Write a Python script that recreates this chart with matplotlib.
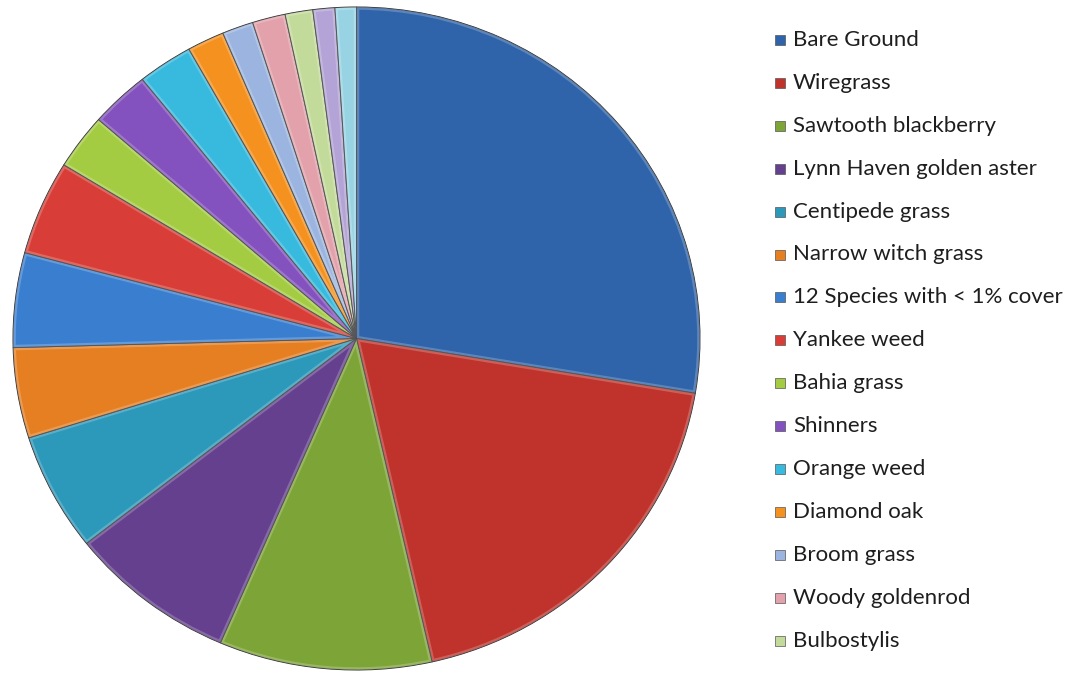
import matplotlib.pyplot as plt
from matplotlib.patches import Rectangle, PathPatch

# percent cover by species (last two slices have no legend entry)
species = ["Bare Ground", "Wiregrass", "Sawtooth blackberry", "Lynn Haven golden aster",
           "Centipede grass", "Narrow witch grass", "12 Species with < 1% cover",
           "Yankee weed", "Bahia grass", "Shinners", "Orange weed", "Diamond oak",
           "Broom grass", "Woody goldenrod", "Bulbostylis"]
cover = [27.6, 18.8, 10.0, 7.9, 5.75, 4.4, 4.6, 4.6, 2.7, 2.8, 2.6, 1.75,
         1.47, 1.55, 1.3, 1.03, 1.0]
colors = ["#2F63AA", "#BF332C", "#7DA436", "#65408F", "#2C98BA", "#E67E22",
          "#3A7ED0", "#D83E37", "#A4CC43", "#8452BE", "#38B9DE", "#F5921F",
          "#9CB5E0", "#E2A1AB", "#C3DB9A", "#B3A3D6", "#98D3E4"]

fig = plt.figure(figsize=(10.65, 6.73), dpi=100)
W, H = 1065, 673
ax = fig.add_axes([13 / W, 3 / H, 687 / W, 663 / H])
wedges, _ = ax.pie(cover, colors=colors, startangle=90, counterclock=False,
                   wedgeprops=dict(edgecolor="#2a2a2a", linewidth=0.7))
ax.set_aspect("auto")
ax.set_xlim(-1.0, 1.0)
ax.set_ylim(-1.0, 1.0)
ax.axis("off")

# soft bevel highlight along the inside of every slice
for w in wedges:
    glow = PathPatch(w.get_path(), transform=w.get_transform(), facecolor="none",
                     edgecolor="white", linewidth=4, alpha=0.22)
    glow.set_clip_path(w)
    ax.add_patch(glow)

# legend drawn row by row on the right
for i, name in enumerate(species):
    yc = 40 + i * 42.9
    fig.patches.append(Rectangle((775 / W, 1 - (yc + 5) / H), 10 / W, 10 / H,
                                 transform=fig.transFigure, facecolor=colors[i],
                                 edgecolor="#555555", linewidth=0.5))
    fig.text(793 / W, 1 - yc / H, name, fontsize=16, family="Lato",
             color="#1e1e1e", va="center", ha="left")

fig.savefig("out.png", dpi=100, facecolor="white")
